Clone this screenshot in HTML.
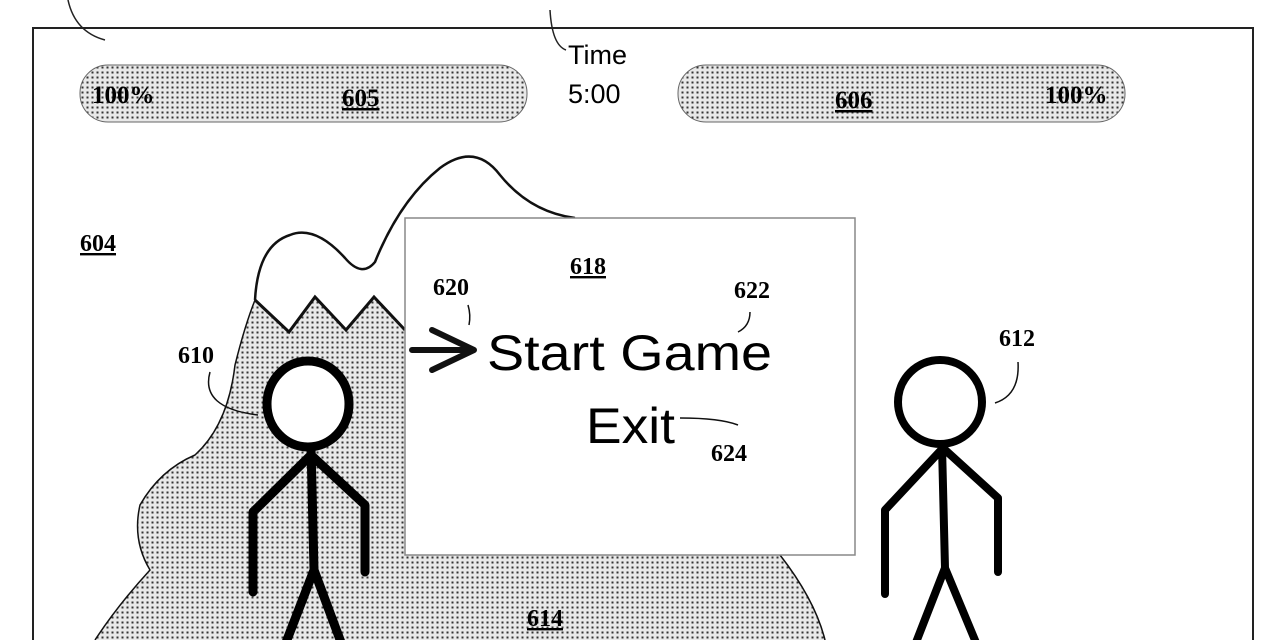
<!DOCTYPE html>
<html><head><meta charset="utf-8"><style>
html,body{margin:0;padding:0;background:#fff;}
svg{display:block;}
.ser{font-family:"Liberation Serif",serif;font-weight:bold;}
.sans{font-family:"Liberation Sans",sans-serif;}
</style></head><body>
<svg width="1280" height="640" viewBox="0 0 1280 640" xmlns="http://www.w3.org/2000/svg">
<defs>
<pattern id="dots" width="5" height="5" patternUnits="userSpaceOnUse">
<rect width="5" height="5" fill="#e8e8e8"/>
<rect x="1.5" y="1.5" width="2" height="2" fill="#333"/>
</pattern>
</defs>
<rect x="0" y="0" width="1280" height="640" fill="#fff"/>
<path d="M33 640 V28 H1253 V640" fill="none" stroke="#222" stroke-width="2"/>
<path d="M68 0 Q75 32 105 40" fill="none" stroke="#222" stroke-width="1.5"/>
<path d="M550 10 Q552 45 566 50" fill="none" stroke="#222" stroke-width="1.5"/>
<rect x="80" y="65" width="447" height="57" rx="28" fill="url(#dots)" stroke="#666" stroke-width="1"/>
<rect x="678" y="65" width="447" height="57" rx="28" fill="url(#dots)" stroke="#666" stroke-width="1"/>
<text x="92" y="103" class="ser" font-size="25">100%</text>
<text x="342" y="106" class="ser" font-size="25" text-decoration="underline">605</text>
<text x="835" y="108" class="ser" font-size="25" text-decoration="underline">606</text>
<text x="1045" y="103" class="ser" font-size="25">100%</text>
<text x="568" y="64" class="sans" font-size="27">Time</text>
<text x="568" y="103" class="sans" font-size="27">5:00</text>
<text x="80" y="251" class="ser" font-size="24" text-decoration="underline">604</text>
<path d="M255 300 Q258 245 290 235 Q315 225 345 258 Q362 278 375 262 Q400 200 440 168 Q475 142 500 175 Q530 212 575 218" fill="#fff" stroke="#111" stroke-width="2.5"/>
<path d="M255 300 L289 332 L315 297 L346 330 L374 297 L405 330 L405 555 L780 555 Q815 600 825 640 L95 640 Q118 605 150 570 Q132 540 140 505 Q160 470 195 455 Q228 425 235 365 Q245 325 255 300 Z" fill="url(#dots)" stroke="none"/>
<path d="M255 300 L289 332 L315 297 L346 330 L374 297 L405 330" fill="none" stroke="#111" stroke-width="3"/>
<path d="M255 300 Q245 325 235 365 Q228 425 195 455 Q160 470 140 505 Q132 540 150 570 Q118 605 95 640" fill="none" stroke="#111" stroke-width="1.5"/>
<path d="M780 555 Q815 600 825 640" fill="none" stroke="#111" stroke-width="1.5"/>
<rect x="405" y="218" width="450" height="337" fill="#fff" stroke="#888" stroke-width="1.5"/>
<text x="570" y="274" class="ser" font-size="24" text-decoration="underline">618</text>
<text x="433" y="295" class="ser" font-size="24">620</text>
<path d="M468 305 Q471 315 469 325" fill="none" stroke="#111" stroke-width="1.5"/>
<text x="734" y="298" class="ser" font-size="24">622</text>
<path d="M750 312 Q750 326 738 332" fill="none" stroke="#111" stroke-width="1.5"/>
<path d="M412 350 H474 M432 330 L474 350 L432 370" fill="none" stroke="#111" stroke-width="6" stroke-linecap="round" stroke-linejoin="round"/>
<text x="487" y="370" class="sans" font-size="50" textLength="285" lengthAdjust="spacingAndGlyphs">Start Game</text>
<text x="586" y="443" class="sans" font-size="50" textLength="89" lengthAdjust="spacingAndGlyphs">Exit</text>
<path d="M680 418 Q720 418 738 425" fill="none" stroke="#111" stroke-width="1.5"/>
<text x="711" y="461" class="ser" font-size="24">624</text>
<text x="178" y="363" class="ser" font-size="24">610</text>
<path d="M210 372 Q200 408 258 415" fill="none" stroke="#111" stroke-width="1.5"/>
<text x="999" y="346" class="ser" font-size="24">612</text>
<path d="M1018 362 Q1020 395 995 403" fill="none" stroke="#111" stroke-width="1.5"/>
<text x="527" y="626" class="ser" font-size="24" text-decoration="underline">614</text>
<g fill="none" stroke="#000" stroke-width="9" stroke-linecap="round" stroke-linejoin="round">
<ellipse cx="308" cy="404" rx="41" ry="43" fill="#fff"/>
<path d="M311 447 L314 570 M311 455 L253 512 L253 592 M311 455 L365 505 L365 572 M314 570 L285 645 M314 570 L342 645"/>
</g>
<g fill="none" stroke="#000" stroke-width="8" stroke-linecap="round" stroke-linejoin="round">
<circle cx="940" cy="402" r="42" fill="#fff"/>
<path d="M942 446 L945 568 M943 448 L885 510 L885 594 M943 448 L998 498 L998 572 M945 568 L915 645 M945 568 L977 645"/>
</g>
</svg>
</body></html>
